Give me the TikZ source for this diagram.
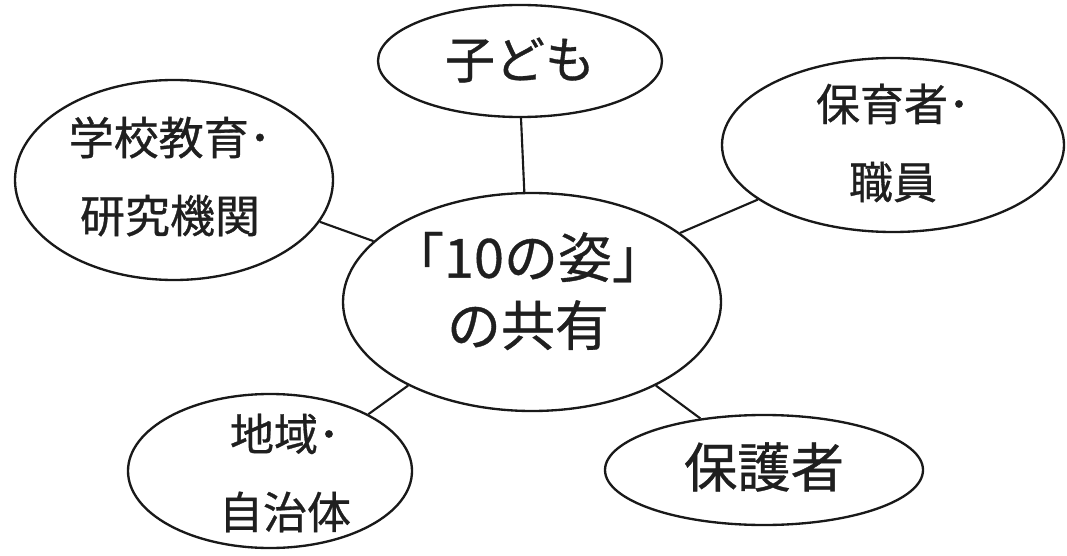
\documentclass[tikz,border=0pt]{standalone}
\usepackage{fontspec}
\setmainfont{Noto Sans CJK JP}[FakeBold=0.7]
\usetikzlibrary{shapes.geometric}
\begin{document}
\begin{tikzpicture}[x=0.75pt,y=-0.75pt,
  oval/.style 2 args={ellipse,draw=black!90,line width=1.75pt,minimum width=#1*1.5pt,minimum height=#2*1.5pt,inner sep=0pt},
  lbl/.style={align=center,text=black!88,inner sep=0pt},
  link/.style={draw=black!90,line width=1.6pt}]
\useasboundingbox (0,0) rectangle (1067,556);
\fill[white] (0,0) rectangle (1067,556);
% ellipses
\node[oval={189}{109}] (center) at (532,302) {};
\node[oval={142}{56}] (kodomo) at (520,61) {};
\node[oval={159}{100}] (school) at (174,180) {};
\node[oval={171}{87}] (staff) at (893,145) {};
\node[oval={142}{77}] (local) at (270,471) {};
\node[oval={159}{55}] (parent) at (764,470) {};
% labels
\node[lbl,font=\fontsize{40.5pt}{51pt}\selectfont] (tcenter) at (528,291) {「10の姿」\\の共有};
\node[lbl,font=\fontsize{37.5pt}{45pt}\selectfont] (tkodomo) at (520,60) {子ども};
\node[lbl,font=\fontsize{33.75pt}{58.5pt}\selectfont] (tschool) at (170,176.5) {学校教育･\\研究機関};
\node[lbl,font=\fontsize{33pt}{58.5pt}\selectfont] (tstaff) at (893,143) {保育者･\\職員};
\node[lbl,font=\fontsize{33pt}{58.5pt}\selectfont] (tlocal) at (285,473) {地域･\\自治体};
\node[lbl,font=\fontsize{40pt}{48pt}\selectfont] (tparent) at (764,467) {保護者};
% connectors
\draw[link] (kodomo.-89.5) -- (center.94);
\draw[link] (school.-16.7) -- (center.159);
\draw[link] (staff.202.2) -- (center.25.4);
\draw[link] (local.30.9) -- (center.214);
\draw[link] (parent.141.8) -- (center.-34);
\end{tikzpicture}
\end{document}
